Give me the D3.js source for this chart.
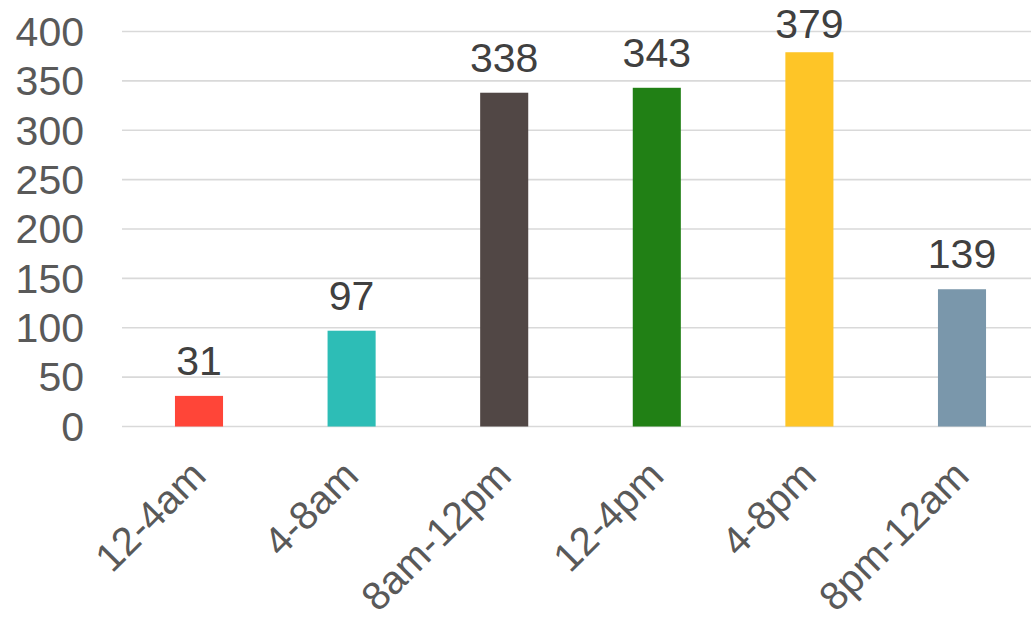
<!DOCTYPE html>
<html>
<head>
<meta charset="utf-8">
<script src="https://cdn.jsdelivr.net/npm/d3@7"></script>
<style>
  body { margin: 0; background: #fff; }
  text { font-family: "Liberation Sans", Arial, sans-serif; }
</style>
</head>
<body>
<div class="chart"></div>
<script>
// values
var categories = ['12-4am', '4-8am', '8am-12pm', '12-4pm', '4-8pm', '8pm-12am'];
var counts = [31, 97, 338, 343, 379, 139];
var barColors = ['#FF4538', '#2DBDB6', '#514745', '#218015', '#FEC527', '#7A97AB'];
var yTicks = [0, 50, 100, 150, 200, 250, 300, 350, 400];

var width = 1031;
var height = 622;

var svg = d3.select('.chart').append('svg')
    .attr('width', width)
    .attr('height', height);

var x = d3.scaleBand()
    .domain(categories)
    .range([122.7, 1038.3])
    .paddingInner(0.685)
    .paddingOuter(0.3425);

var y = d3.scaleLinear()
    .domain([0, 400])
    .range([426.5, 31.5]);

// gridlines
svg.selectAll('.grid')
    .data(yTicks)
  .enter().append('line')
    .attr('class', 'grid')
    .attr('x1', 122)
    .attr('x2', width)
    .attr('y1', function (d) { return y(d); })
    .attr('y2', function (d) { return y(d); })
    .style('stroke', '#d9d9d9')
    .style('stroke-width', 1.6);

// y tick labels
svg.selectAll('.ytick')
    .data(yTicks)
  .enter().append('text')
    .attr('class', 'ytick')
    .attr('x', 84)
    .attr('y', function (d) { return y(d); })
    .attr('dy', '0.35em')
    .attr('text-anchor', 'end')
    .style('font-size', '41px')
    .style('fill', '#595959')
    .text(function (d) { return d; });

var data = categories.map(function (c, i) {
  return { cat: c, value: counts[i], color: barColors[i] };
});

// bars
svg.selectAll('.bar')
    .data(data)
  .enter().append('rect')
    .attr('class', 'bar')
    .attr('x', function (d) { return x(d.cat); })
    .attr('width', x.bandwidth())
    .attr('y', function (d) { return y(d.value); })
    .attr('height', function (d) { return y(0) - y(d.value); })
    .style('fill', function (d) { return d.color; });

// value labels (kept inside the top of the chart like excel does)
svg.selectAll('.label')
    .data(data)
  .enter().append('text')
    .attr('class', 'label')
    .attr('x', function (d) { return x(d.cat) + x.bandwidth() / 2; })
    .attr('y', function (d) { return Math.max(y(d.value) - 21, 38); })
    .attr('text-anchor', 'middle')
    .style('font-size', '41px')
    .style('fill', '#404040')
    .text(function (d) { return d.value; });

// rotated category labels
svg.selectAll('.xtick')
    .data(categories)
  .enter().append('text')
    .attr('class', 'xtick')
    .attr('transform', function (d) {
      return 'translate(' + (x(d) + x.bandwidth() / 2 + 9) + ',478) rotate(-45)';
    })
    .attr('text-anchor', 'end')
    .style('font-size', '40px')
    .style('fill', '#595959')
    .text(function (d) { return d; });
</script>
</body>
</html>
